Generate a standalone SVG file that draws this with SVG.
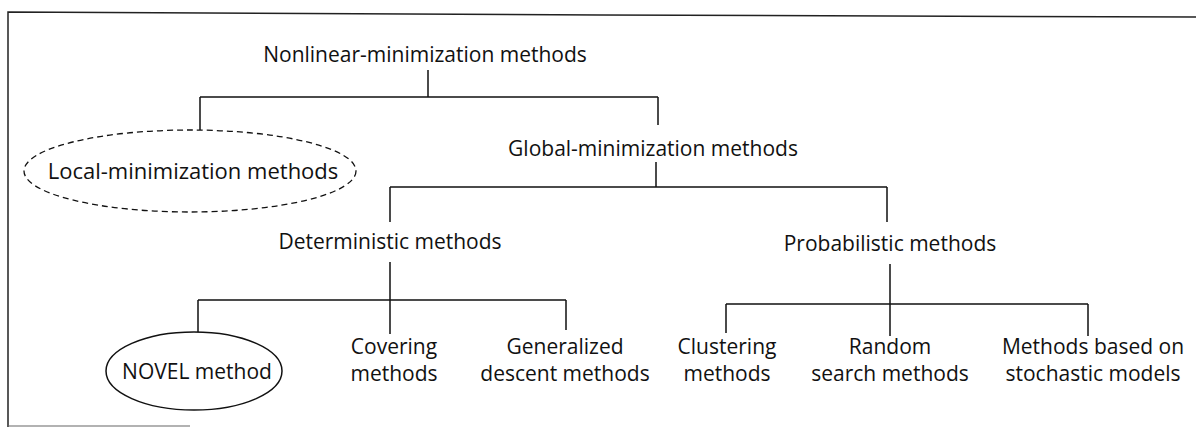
<svg xmlns="http://www.w3.org/2000/svg" width="1196" height="428" viewBox="0 0 1196 428">
<style>
  text { font-family: "Open Sans", "Noto Sans", "Liberation Sans", sans-serif; font-size: 21px; fill: #111; text-anchor: middle; }
  .ln { stroke: #111; stroke-width: 1.5; fill: none; }
  .frame { stroke: #222; stroke-width: 1.5; fill: none; }
  .dash { stroke: #111; stroke-width: 1.3; fill: none; stroke-dasharray: 6 4; }
  .solid { stroke: #111; stroke-width: 1.5; fill: none; }
</style>
<rect width="1196" height="428" fill="#fff"/>
<g id="frame">
  <path class="frame" d="M8,427 L8,12 L600,15 L1196,17"/>
  <path d="M8,426 L190,426" stroke="#666" stroke-width="1.2" fill="none"/>
</g>
<g id="connectors">
  <path class="ln" d="M428,70 V97 M200,97 H658 M200,97 V130 M658,97 V125"/>
  <path class="ln" d="M656,162 V187 M390,187 H887 M390,187 V222 M887,187 V222"/>
  <path class="ln" d="M390,262 V334 M198,300 H566 M198,300 V332 M566,300 V330"/>
  <path class="ln" d="M890,264 V336 M726,304 H1088 M726,304 V333 M1088,304 V336"/>
</g>
<g id="n-nonlinear"><text x="425" y="62">Nonlinear-minimization methods</text></g>
<g id="n-local">
  <ellipse class="dash" cx="190" cy="171" rx="166" ry="41"/>
  <text x="193" y="179" style="font-size:22px">Local-minimization methods</text>
</g>
<g id="n-global"><text x="653" y="156">Global-minimization methods</text></g>
<g id="n-deterministic"><text x="390" y="249">Deterministic methods</text></g>
<g id="n-probabilistic"><text x="890" y="251">Probabilistic methods</text></g>
<g id="n-novel">
  <ellipse class="solid" cx="194" cy="371" rx="88" ry="39"/>
  <text x="197" y="379">NOVEL method</text>
</g>
<g id="n-covering"><text x="394" y="354">Covering</text><text x="394" y="381">methods</text></g>
<g id="n-generalized"><text x="565" y="354">Generalized</text><text x="565" y="381">descent methods</text></g>
<g id="n-clustering"><text x="727" y="354">Clustering</text><text x="727" y="381">methods</text></g>
<g id="n-random"><text x="890" y="354">Random</text><text x="890" y="381">search methods</text></g>
<g id="n-stochastic"><text x="1093" y="354">Methods based on</text><text x="1093" y="381">stochastic models</text></g>
</svg>
